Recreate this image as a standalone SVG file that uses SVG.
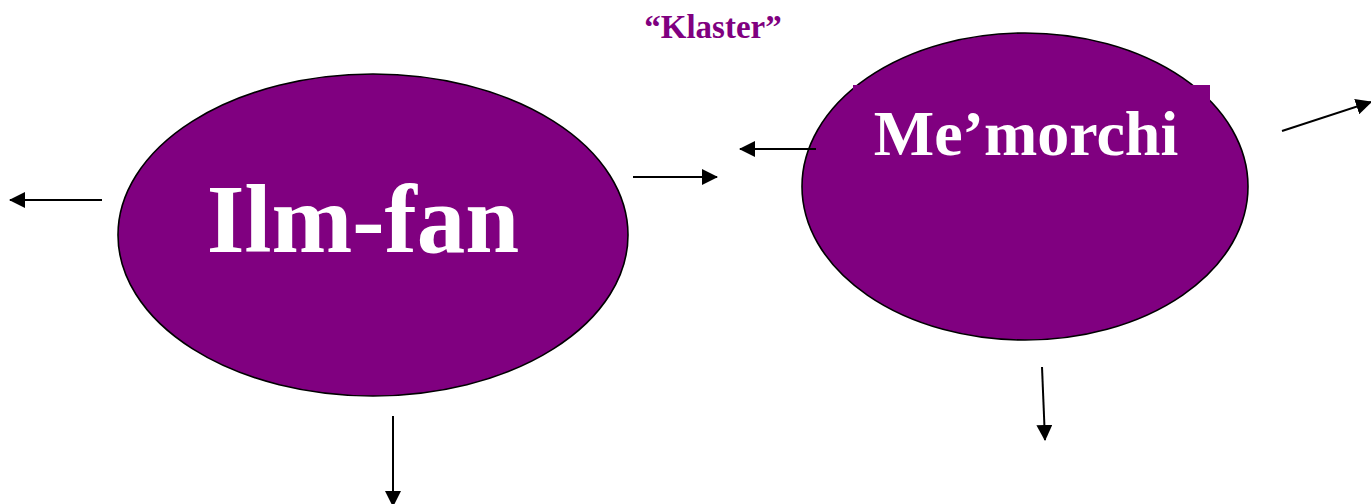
<svg xmlns="http://www.w3.org/2000/svg" width="1371" height="504" viewBox="0 0 1371 504">
<style>
.node{fill:#800080;stroke:#000;stroke-width:1.6}
.lbl{font-family:"Liberation Serif","Times New Roman",serif;font-weight:bold;fill:#fff;text-anchor:middle}
.title{font-family:"Liberation Serif","Times New Roman",serif;font-weight:bold;fill:#800080;text-anchor:middle;font-size:33px}
.conn{stroke:#000;stroke-width:2;fill:none;marker-end:url(#ah)}
</style>
<defs>
<marker id="ah" markerUnits="userSpaceOnUse" markerWidth="16" markerHeight="16" viewBox="0 0 16 16" refX="15" refY="8" orient="auto">
<path d="M0,0 L16,8 L0,16 Z" fill="#000"/>
</marker>
</defs>
<rect width="1371" height="504" fill="#fff"/>
<text class="title" x="713" y="38">“Klaster”</text>
<g id="node-ilmfan">
<ellipse class="node" cx="373" cy="235" rx="255" ry="161"/>
<text class="lbl" x="363" y="252" font-size="97">Ilm-fan</text>
</g>
<g id="node-memorchi">
<ellipse class="node" cx="1025" cy="186.5" rx="223" ry="153.5"/>
<rect x="853" y="85" width="357" height="110" fill="#800080"/>
<text class="lbl" x="1026" y="155" font-size="64">Me’morchi</text>
</g>
<g id="connectors">
<line class="conn" x1="102" y1="200" x2="10" y2="200"/>
<line class="conn" x1="633" y1="177" x2="717" y2="177"/>
<line class="conn" x1="816" y1="149" x2="740" y2="149"/>
<line class="conn" x1="1282" y1="131" x2="1371" y2="102"/>
<line class="conn" x1="393" y1="416" x2="393" y2="506"/>
<line class="conn" x1="1042" y1="367" x2="1045" y2="440"/>
</g>
</svg>
